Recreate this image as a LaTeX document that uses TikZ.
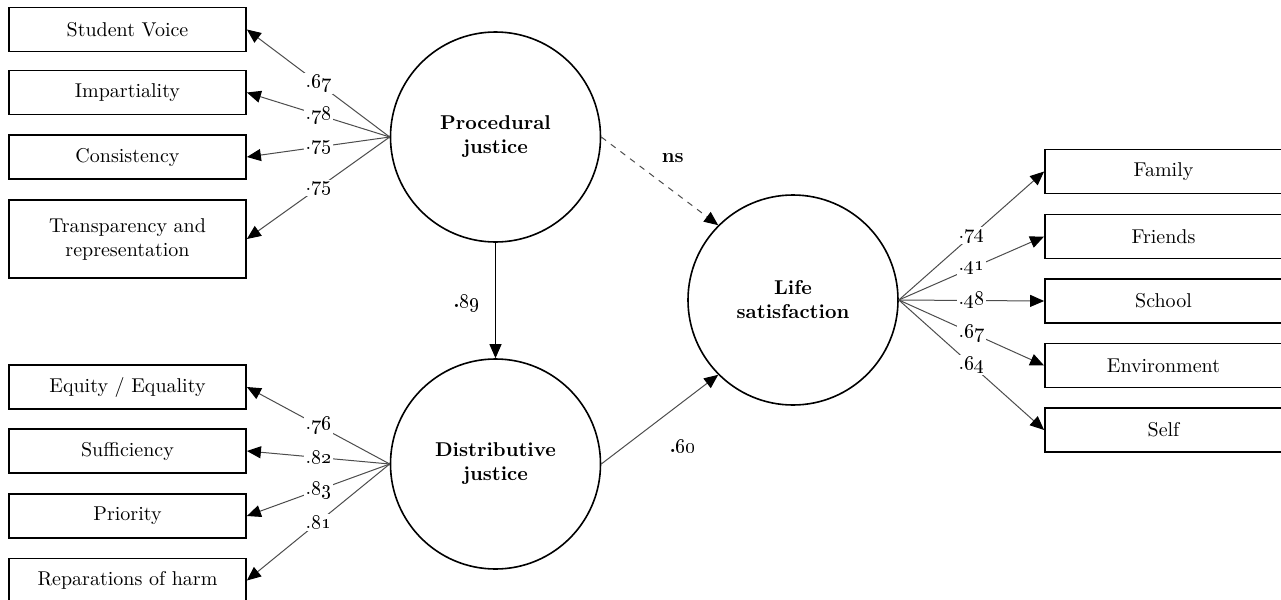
\documentclass[tikz,border=0pt]{standalone}
\usetikzlibrary{arrows.meta}
\begin{document}
\begin{tikzpicture}[x=0.5pt,y=-0.5pt,
  box/.style={draw,line width=0.9pt,minimum width=118.5pt,minimum height=22pt,inner sep=0pt,align=center},
  latent/.style={draw,circle,line width=0.8pt,minimum size=105pt,inner sep=0pt,align=center,font=\bfseries},
  load/.style={draw=black!70,line width=0.5pt,-{Triangle[length=7pt,width=6pt,color=black]}},
  coef/.style={midway,fill=white,inner sep=1pt}]
\useasboundingbox (0,0) rectangle (1281,600);

\node[latent] (pj) at (495.5,137) {Procedural\\justice};
\node[latent] (dj) at (495.5,464) {Distributive\\justice};
\node[latent] (ls) at (793,300) {Life\\satisfaction};

\node[box] (voice) at (127.5,29.5) {Student Voice};
\node[box] (impart) at (127.5,92.5) {Impartiality};
\node[box] (consist) at (127.5,157) {Consistency};
\node[box,minimum height=39pt] (transp) at (127.5,239) {Transparency and\\representation};
\node[box] (equity) at (127.5,387) {Equity / Equality};
\node[box] (suffic) at (127.5,451) {Sufficiency};
\node[box] (prior) at (127.5,516) {Priority};
\node[box] (repar) at (127.5,580.5) {Reparations of harm};

\node[box] (family) at (1163.5,171.5) {Family};
\node[box] (friends) at (1163.5,236.5) {Friends};
\node[box] (school) at (1163.5,301) {School};
\node[box] (envir) at (1163.5,365.5) {Environment};
\node[box] (self) at (1163.5,430) {Self};

\draw[load] (pj.west) -- node[coef] (l1) {.\oldstylenums{67}} (voice.east);
\draw[load] (pj.west) -- node[coef] (l2) {.\oldstylenums{78}} (impart.east);
\draw[load] (pj.west) -- node[coef] (l3) {.\oldstylenums{75}} (consist.east);
\draw[load] (pj.west) -- node[coef] (l4) {.\oldstylenums{75}} (transp.east);

\draw[load] (dj.west) -- node[coef] (l5) {.\oldstylenums{76}} (equity.east);
\draw[load] (dj.west) -- node[coef] (l6) {.\oldstylenums{82}} (suffic.east);
\draw[load] (dj.west) -- node[coef] (l7) {.\oldstylenums{83}} (prior.east);
\draw[load] (dj.west) -- node[coef] (l8) {.\oldstylenums{81}} (repar.east);

\draw[load] (ls.east) -- node[coef] (l9) {.\oldstylenums{74}} (family.west);
\draw[load] (ls.east) -- node[coef] (l10) {.\oldstylenums{41}} (friends.west);
\draw[load] (ls.east) -- node[coef] (l11) {.\oldstylenums{48}} (school.west);
\draw[load] (ls.east) -- node[coef] (l12) {.\oldstylenums{67}} (envir.west);
\draw[load] (ls.east) -- node[coef] (l13) {.\oldstylenums{64}} (self.west);

\draw[load,draw=black] (pj.south) -- node[midway,shift={(-29,3)}] (b1) {\bfseries .\oldstylenums{89}} (dj.north);
\draw[load,dashed] (pj.east) -- node[midway,shift={(13,-23)}] (b2) {\bfseries ns} (ls.135);
\draw[load] (dj.east) -- node[midway,shift={(23,27)}] (b3) {\bfseries .\oldstylenums{60}} (ls.225);
\end{tikzpicture}
\end{document}
